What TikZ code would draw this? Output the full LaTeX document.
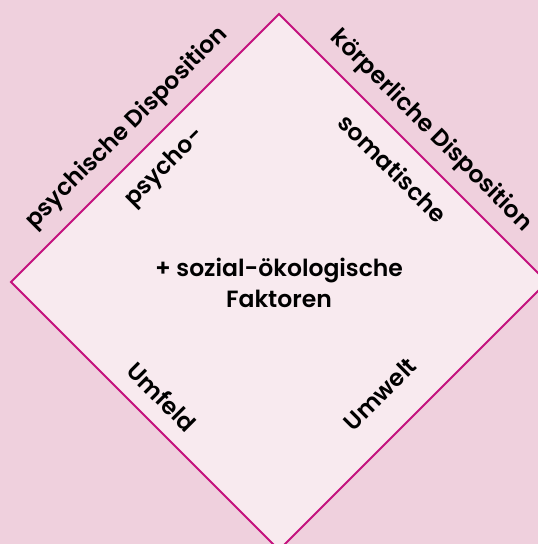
\documentclass[tikz,border=0pt]{standalone}
\usepackage{fontspec}
\setmainfont{Poppins SemiBold}
\definecolor{bgpink}{HTML}{EFD0DD}
\definecolor{inpink}{HTML}{F8EAEF}
\definecolor{edge}{HTML}{C4127E}
\begin{document}
\begin{tikzpicture}[x=1pt,y=-1pt,
  lab/.style={font=\fontsize{23.5}{31}\selectfont, text=black, inner sep=0pt, anchor=center}]
\fill[bgpink] (0,0) rectangle (538,544);
\useasboundingbox (0,0) rectangle (538,544);
\coordinate (T) at (279,14);
\coordinate (L) at (11,282);
\coordinate (R) at (547,282);
\coordinate (B) at (279,550);
\draw[edge, line width=2pt, fill=inpink, line join=miter] (T) -- (R) -- (B) -- (L) -- cycle;
\node[lab, rotate=45] (psy) at (127,128) {psychische Disposition};
\node[lab, rotate=45] (psycho) at (165,168) {psycho-};
\node[lab, rotate=-45] (koe) at (431,131) {körperliche Disposition};
\node[lab, rotate=-45] (som) at (393,168) {somatische};
\node[lab, align=center] (soz) at (279,283) {+ sozial-ökologische\\Faktoren};
\node[lab, rotate=-45] (umf) at (162,397) {Umfeld};
\node[lab, rotate=45] (umw) at (380,394) {Umwelt};
\end{tikzpicture}
\end{document}
